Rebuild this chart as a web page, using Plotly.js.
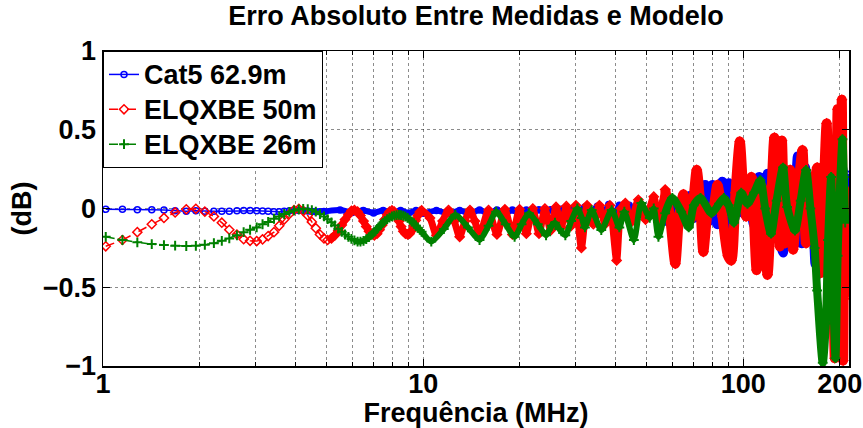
<!DOCTYPE html>
<html>
<head>
<meta charset="utf-8">
<script src="https://cdn.plot.ly/plotly-3.0.1.min.js"></script>
<style>html,body{margin:0;padding:0;background:#fff;}#chart{width:863px;height:428px;}</style>
</head>
<body>
<div id="chart"></div>
<script>
// ---- Data ----
// Cat5 62.9m
const catFreq = [1.02,1.15,1.28,1.42,1.55,1.68,1.82,1.95,2.08,2.22,2.35,2.48,2.62,2.75,2.88,3.02,3.15,3.28,3.42,3.55,3.68,3.82,3.95,4.09,4.22,4.36,4.49,4.62,4.76,4.9,
 5.5,6,6.5,7,7.5,8,8.5,9,9.5,10,11,12,13,14,15,16,17,18,19,20,21,22,23,24,25,26,27,28,29,30,
 32,33,35,36.5,38,39.5,41,42.5,44,46,48,50,52,54,56,58,60,62,64,66,68,70,72,74,76,78,80,83,86,88,90,93,96,100,104,108,112,116,119,123,127,130,133,137,141,144,148,152,156,160,164,168,172,176,180,184,188,192,196,200,204,207,210];
const catVal = [-0.005,-0.005,-0.008,-0.008,-0.01,-0.015,-0.018,-0.015,-0.018,-0.018,-0.018,-0.017,-0.014,-0.012,-0.012,-0.014,-0.016,-0.018,-0.02,-0.02,-0.018,-0.015,-0.013,-0.012,-0.013,-0.016,-0.019,-0.021,-0.021,-0.019,
 -0.01,-0.025,-0.012,-0.028,-0.012,-0.03,-0.012,-0.03,-0.012,-0.03,-0.012,-0.032,-0.012,-0.032,-0.01,-0.032,-0.01,-0.032,-0.01,-0.033,-0.01,-0.033,-0.008,-0.033,-0.008,-0.033,-0.005,-0.035,-0.005,-0.035,
 0.01,-0.04,0.015,-0.045,0.025,-0.04,0.02,-0.05,0.02,-0.05,0.02,-0.06,0.03,-0.07,0.04,-0.08,0.04,-0.09,0.05,-0.06,0.08,-0.06,0.12,-0.07,0.15,-0.08,0.15,-0.1,0.17,-0.14,0.16,-0.09,0.05,-0.03,0.06,-0.1,0.2,-0.16,0.22,-0.12,0.1,-0.2,-0.28,0.15,0.2,-0.1,0.33,-0.22,0.26,-0.1,0.1,-0.35,0.1,-0.28,0.16,-0.3,0.1,-0.44,0.2,-0.3,0.25,-0.14,0.22];

// ELQXBE 50m
const elq50Freq = [1.02,1.15,1.28,1.42,1.55,1.68,1.82,1.95,2.08,2.22,2.35,2.48,2.62,2.75,2.88,3.02,3.15,3.28,3.42,3.55,3.68,3.82,3.95,4.09,4.22,4.36,4.49,4.62,4.76,4.9,
 5.03,5.17,5.3,5.43,5.57,5.7,5.84,5.97,6.1,6.24,6.37,6.51,6.64,6.77,6.91,7.04,7.18,7.31,7.45,7.58,7.72,7.85,7.99,8.12,8.26,8.4,8.53,8.67,8.8,8.94,9.07,9.21,9.35,9.48,9.62,9.76,9.89,
 10.5,11,11.5,12,12.5,13,13.5,14,14.5,15,16,17,18,19,20,21,22,23,24,25,26,27,28,29,30,31.2,32.5,34,35.5,37,38.3,40.2,41.5,42.8,44.5,47,49.5,52.5,54.5,57,59,61.3,63,65,67,68.5,71.5,73.5,75,78,80,83,86,89.5,91.7,94.5,97.5,100,102,106,110,114,119,125,128,130,132,135,140,143,148,153,157,163,170,174,182,186,189,193,197,200,203,205,207,209];
const elq50Val = [-0.24,-0.2,-0.15,-0.1,-0.06,-0.025,-0.005,-0.002,-0.02,-0.05,-0.09,-0.135,-0.165,-0.195,-0.205,-0.207,-0.196,-0.175,-0.15,-0.11,-0.07,-0.035,-0.01,-0.003,-0.015,-0.045,-0.085,-0.125,-0.165,-0.19,
 -0.2,-0.19,-0.17,-0.14,-0.105,-0.07,-0.04,-0.015,-0.01,-0.02,-0.045,-0.08,-0.115,-0.145,-0.165,-0.17,-0.16,-0.135,-0.105,-0.07,-0.04,-0.02,-0.012,-0.02,-0.045,-0.08,-0.115,-0.145,-0.16,-0.165,-0.16,-0.14,-0.11,-0.075,-0.045,-0.022,-0.012,
 -0.06,-0.17,-0.08,-0.01,-0.08,-0.18,-0.08,-0.01,-0.08,-0.17,-0.01,-0.165,-0.005,-0.165,-0.005,-0.16,0.0,-0.16,0.0,-0.14,0.01,-0.12,0.015,-0.11,0.02,-0.25,0.02,-0.1,0.02,-0.1,0.02,-0.33,0.0,0.035,-0.09,0.055,-0.07,0.075,-0.07,0.12,-0.05,-0.35,-0.05,0.09,-0.04,-0.07,0.245,0.0,-0.275,0.0,-0.02,0.15,-0.05,-0.3,-0.33,0.1,0.425,0.1,-0.05,0.2,-0.39,0.14,-0.42,0.45,0.2,-0.24,0.43,-0.22,0.245,-0.26,0.1,0.37,-0.22,0.0,0.26,-0.41,0.54,-0.73,0.0,-0.95,0.63,-0.3,0.69,-0.965,0.12,-0.56];

// ELQXBE 26m
const elq26Freq = [1.02,1.15,1.28,1.42,1.55,1.68,1.82,1.95,2.08,2.22,2.35,2.48,2.62,2.75,2.88,3.02,3.15,3.28,3.42,3.55,3.68,3.82,3.95,4.09,4.22,4.36,4.49,4.62,4.76,4.9,
 5.03,5.17,5.3,5.43,5.57,5.7,5.84,5.97,6.1,6.24,6.37,6.51,6.64,6.77,6.91,7.04,7.18,7.31,7.45,7.58,7.72,7.85,7.99,8.12,8.26,8.4,8.53,8.67,8.8,8.94,9.07,9.21,9.35,9.48,9.62,9.76,9.89,
 10.6,11.6,12.6,13.8,15,16,16.9,18.1,19.3,20.3,21.4,22.8,24.2,25.2,25.8,26.6,27.8,29,30.3,31.3,32,33.6,36,38.8,41,42.5,45.5,48,51,52.5,54.3,57,60,64,67.5,70,73.5,79.5,84,87,90,93.5,98.5,103,108,113,117,122,127,133,137,145,151,157,162,167,170,177,181,184,188,191,194,197,200,204,206,208];
const elq26Val = [-0.18,-0.2,-0.215,-0.226,-0.232,-0.236,-0.238,-0.237,-0.23,-0.22,-0.205,-0.19,-0.17,-0.15,-0.135,-0.12,-0.1,-0.085,-0.065,-0.05,-0.035,-0.022,-0.012,-0.005,-0.002,-0.004,-0.01,-0.02,-0.035,-0.05,
 -0.068,-0.088,-0.108,-0.128,-0.148,-0.165,-0.18,-0.193,-0.203,-0.21,-0.21,-0.205,-0.195,-0.182,-0.166,-0.148,-0.13,-0.112,-0.095,-0.08,-0.068,-0.058,-0.05,-0.045,-0.042,-0.041,-0.042,-0.046,-0.052,-0.06,-0.07,-0.082,-0.095,-0.108,-0.122,-0.136,-0.148,
 -0.21,-0.13,-0.04,-0.12,-0.2,-0.11,-0.02,-0.1,-0.18,-0.1,-0.03,-0.1,-0.17,-0.11,-0.09,-0.13,-0.17,-0.08,0.0,-0.06,-0.12,-0.01,-0.137,-0.01,-0.12,-0.02,-0.2,0.035,-0.06,0.0,-0.18,-0.03,0.067,-0.02,-0.12,0.02,0.067,-0.03,0.03,0.067,0.02,-0.09,0.1,0.03,0.1,0.18,0.0,-0.16,0.05,0.26,0.01,-0.14,0.05,0.245,0.0,-0.25,-0.52,-0.98,-0.73,-0.2,0.2,-0.56,-0.95,-0.3,0.1,0.44,0.2,-0.09];

const seriesNames = ['Cat5 62.9m', 'ELQXBE 50m', 'ELQXBE 26m'];
const xTickVals = [1, 10, 100, 200];
const xTickText = ['1', '10', '100', '200'];
const yTickVals = [-1, -0.5, 0, 0.5, 1];

// ---- Styling ----
const FONT = 'Liberation Sans, Arial, Helvetica, sans-serif';
const BLUE = '#0000ff', RED = '#ff0000', GREEN = '#008000';

function band(fr, vals, fmin, color, width) {
  const x = [], y = [];
  fr.forEach((f, i) => { if (f >= fmin) { x.push(f); y.push(vals[i]); } });
  return {x, y, type: 'scatter', mode: 'lines', showlegend: false, hoverinfo: 'skip',
          line: {color, width, shape: 'spline', smoothing: 0.7}};
}
function main(fr, vals, name, color, dash, symbol, size, mlw) {
  return {x: fr, y: vals, name: '<span style="font-size:27px">' + name + '</span>',
          type: 'scatter', mode: 'lines+markers',
          line: {color, width: 1.5, dash},
          marker: {symbol, size, color, line: {color, width: mlw}}};
}

const traces = [
  band(catFreq, catVal, 4.5, BLUE, 6),
  band(catFreq, catVal, 55, BLUE, 10),
  main(catFreq, catVal, seriesNames[0], BLUE, 'solid', 'circle-open', 6, 1.5),
  band(elq50Freq, elq50Val, 5.0, RED, 7),
  band(elq50Freq, elq50Val, 55, RED, 10),
  main(elq50Freq, elq50Val, seriesNames[1], RED, 'dash', 'diamond-open', 7, 1.5),
  band(elq26Freq, elq26Val, 6.0, GREEN, 6),
  band(elq26Freq, elq26Val, 55, GREEN, 8),
  main(elq26Freq, elq26Val, seriesNames[2], GREEN, 'dashdot', 'cross-thin-open', 7, 2)
];

const bold = {family: FONT, size: 27, color: '#000', weight: 'bold'};
const minorVals = [2,3,4,5,6,7,8,9,20,30,40,50,60,70,80,90];
const GRID = 'rgba(0,0,0,0.45)';

const layout = {
  width: 863, height: 428,
  margin: {l: 103, r: 14, t: 51, b: 62},
  paper_bgcolor: '#fff', plot_bgcolor: '#fff',
  font: {family: FONT, color: '#000'},
  title: {text: 'Erro Absoluto Entre Medidas e Modelo', font: bold,
          x: 0.5516, xanchor: 'center', y: 0.985, yanchor: 'top', yref: 'container'},
  xaxis: {
    type: 'log', range: [0, 2.33],
    tickmode: 'array', tickvals: xTickVals, ticktext: xTickText,
    ticks: 'inside', ticklen: 7, tickwidth: 1, tickcolor: '#000',
    ticklabeloverflow: 'allow', ticklabelstandoff: -7,
    showline: true, linecolor: '#000', linewidth: 1.5, mirror: 'ticks',
    showgrid: true, gridcolor: GRID, griddash: 'dot', gridwidth: 1,
    minor: {tickmode: 'array', tickvals: minorVals, ticks: 'inside', ticklen: 4, tickcolor: '#000',
            showgrid: true, gridcolor: GRID, griddash: 'dot', gridwidth: 1},
    zeroline: false, tickfont: bold, automargin: false,
    title: {text: 'Frequência (MHz)', font: bold, standoff: 0}
  },
  yaxis: {
    range: [-1, 1], tickmode: 'array', tickvals: yTickVals,
    ticks: 'inside', ticklen: 7, tickwidth: 1, tickcolor: '#000',
    showline: true, linecolor: '#000', linewidth: 1.5, mirror: 'ticks',
    showgrid: true, gridcolor: GRID, griddash: 'dot', gridwidth: 1,
    zeroline: false, tickfont: bold, automargin: false,
    title: {text: '(dB)', font: bold, standoff: 3}
  },
  legend: {x: 0, y: 1, xanchor: 'left', yanchor: 'top', bgcolor: '#fff',
           bordercolor: '#000', borderwidth: 1,
           font: {family: FONT, size: 24.5, color: '#000', weight: 'bold'},
           tracegroupgap: 0, itemwidth: 30},
  showlegend: true
};

Plotly.newPlot('chart', traces, layout, {displayModeBar: false, staticPlot: true});
</script>
</body>
</html>
